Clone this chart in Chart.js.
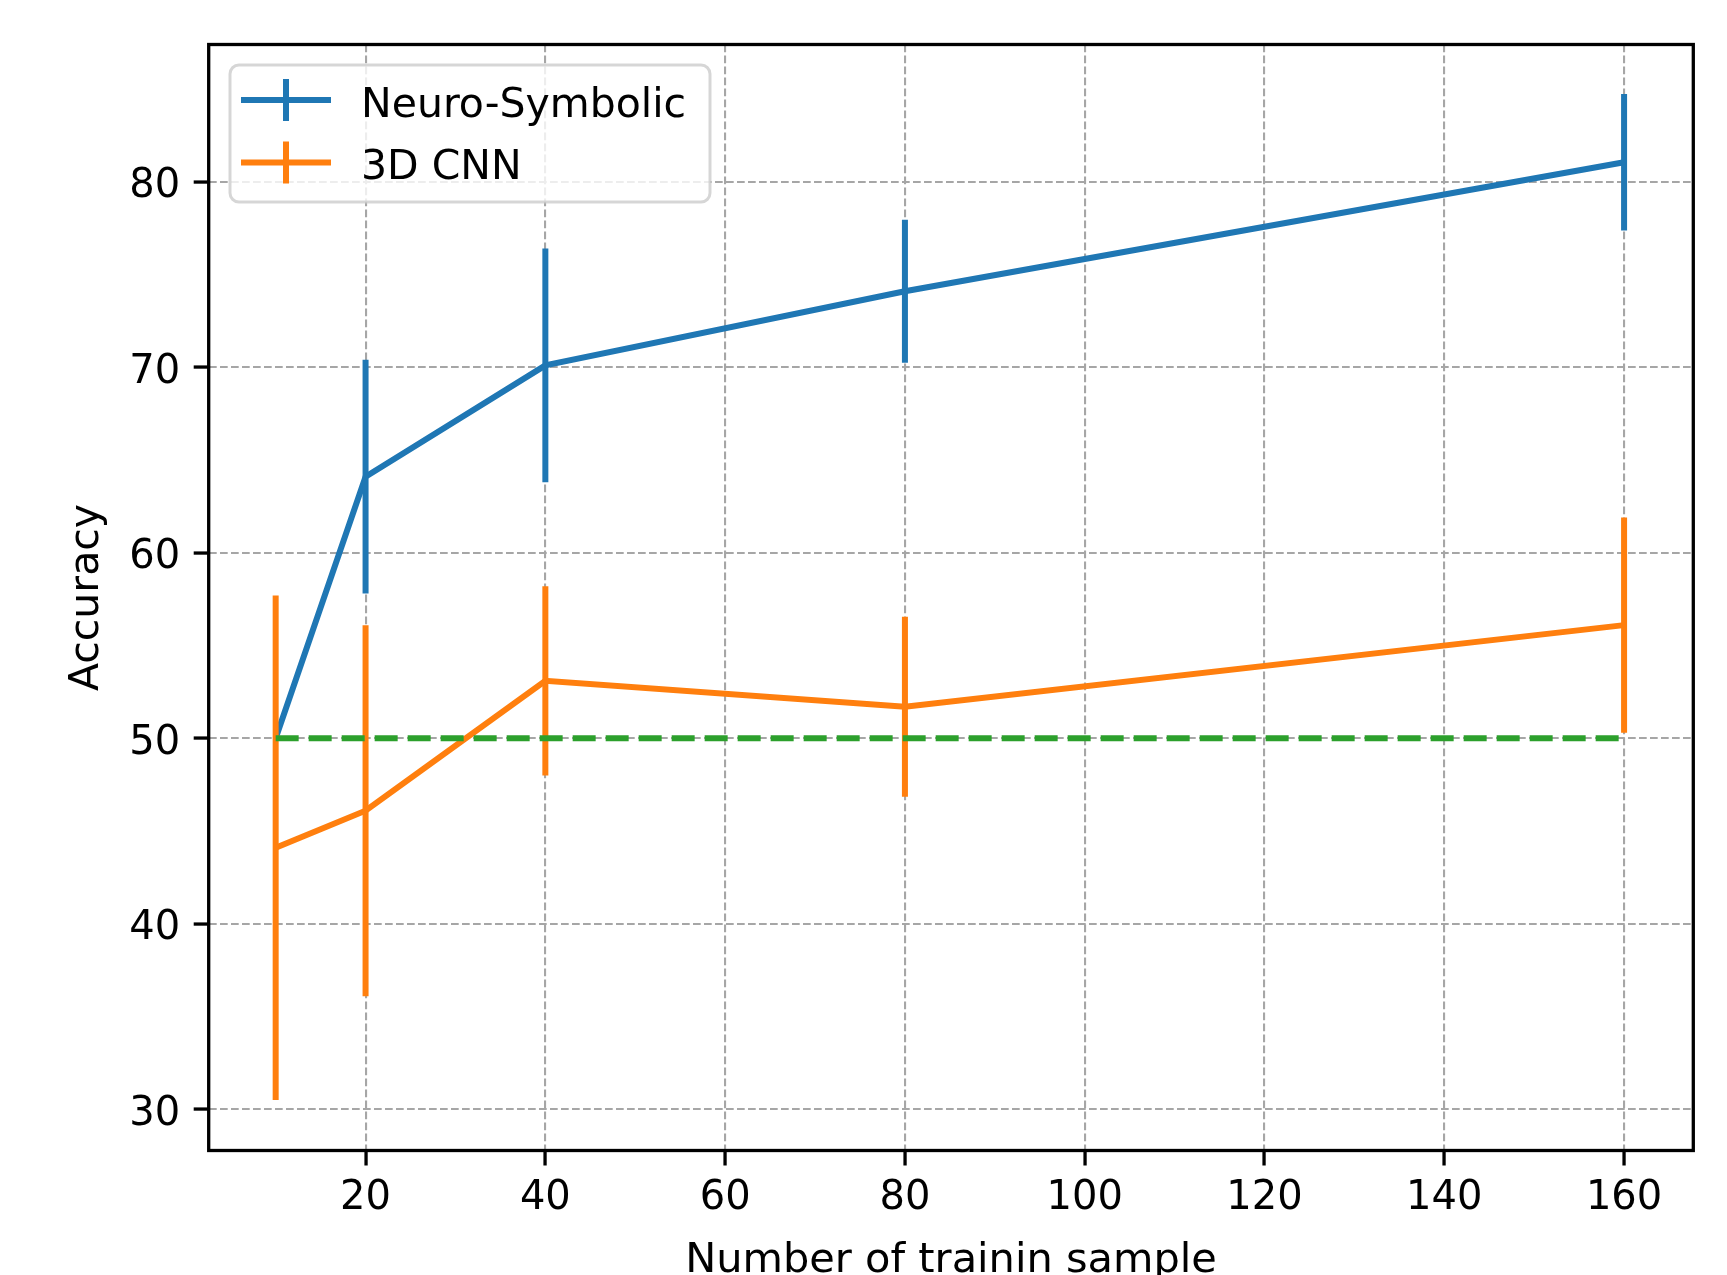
<!DOCTYPE html>
<html>
<head>
<meta charset="utf-8">
<script src="https://cdn.jsdelivr.net/npm/chart.js@4.4.1/dist/chart.umd.min.js"></script>
<style>
  html, body { margin: 0; padding: 0; background: #ffffff; }
  #wrap { width: 1727px; height: 1275px; }
</style>
</head>
<body>
<div id="wrap"><canvas id="c" width="1727" height="1275"></canvas></div>
<script>
// ---- data ----
const sampleCounts = [10, 20, 40, 80, 160];
const neuroMean = [50, 64.1, 70.1, 74.1, 81.05];
const neuroErr  = [0, 6.3, 6.3, 3.85, 3.68];
const cnnMean   = [44.1, 46.1, 53.1, 51.7, 56.1];
const cnnErr    = [13.6, 10.0, 5.1, 4.85, 5.8];
const chanceX   = [10, 160];
const chanceLevel = 50;
const xTickValues = [20, 40, 60, 80, 100, 120, 140, 160];
const yTickValues = [30, 40, 50, 60, 70, 80];
const seriesNames = ['Neuro-Symbolic', '3D CNN'];
const xTitle = 'Number of trainin sample';
const yTitle = 'Accuracy';

const FONT = '"DejaVu Sans", "Liberation Sans", sans-serif';
Chart.defaults.font.family = FONT;
Chart.defaults.color = '#000';

const toPoints = (xs, ys) => xs.map((x, i) => ({x: x, y: ys[i]}));

const errorBarPlugin = {
  id: 'errorBars',
  afterDatasetDraw(chart, args) {
    const ds = chart.data.datasets[args.index];
    if (!ds.errors) return;
    const ctx = chart.ctx, xs = chart.scales.x, ys = chart.scales.y;
    ctx.save();
    ctx.strokeStyle = ds.borderColor;
    ctx.lineWidth = ds.borderWidth;
    ctx.lineCap = 'butt';
    ds.data.forEach((p, i) => {
      const e = ds.errors[i];
      if (!e) return;
      const px = xs.getPixelForValue(p.x);
      ctx.beginPath();
      ctx.moveTo(px, ys.getPixelForValue(p.y - e));
      ctx.lineTo(px, ys.getPixelForValue(p.y + e));
      ctx.stroke();
    });
    ctx.restore();
  }
};

const framePlugin = {
  id: 'frame',
  afterDatasetsDraw(chart) {
    const {ctx, chartArea: a} = chart;
    ctx.save();
    ctx.strokeStyle = '#000';
    ctx.lineWidth = 3.3;
    ctx.strokeRect(a.left, a.top, a.right - a.left, a.bottom - a.top);
    ctx.restore();
  }
};

const legendPlugin = {
  id: 'boxLegend',
  afterDraw(chart) {
    const ctx = chart.ctx;
    const bx = 230, by = 65, bw = 480, bh = 137, r = 9;
    ctx.save();
    ctx.beginPath();
    ctx.moveTo(bx + r, by);
    ctx.arcTo(bx + bw, by, bx + bw, by + bh, r);
    ctx.arcTo(bx + bw, by + bh, bx, by + bh, r);
    ctx.arcTo(bx, by + bh, bx, by, r);
    ctx.arcTo(bx, by, bx + bw, by, r);
    ctx.closePath();
    ctx.fillStyle = 'rgba(255,255,255,0.8)';
    ctx.fill();
    ctx.strokeStyle = 'rgba(204,204,204,0.8)';
    ctx.lineWidth = 3;
    ctx.stroke();
    const rows = [100, 162.5];
    chart.data.datasets.slice(0, 2).forEach((ds, i) => {
      const y = rows[i];
      ctx.strokeStyle = ds.borderColor;
      ctx.lineWidth = 6;
      ctx.lineCap = 'butt';
      ctx.beginPath();
      ctx.moveTo(241, y); ctx.lineTo(331, y);
      ctx.moveTo(286, y - 21); ctx.lineTo(286, y + 21);
      ctx.stroke();
      ctx.fillStyle = '#000';
      ctx.font = '41px ' + FONT;
      ctx.textBaseline = 'alphabetic';
      ctx.textAlign = 'left';
      ctx.fillText(ds.label, 361, y + 16.5);
    });
    ctx.restore();
  }
};

const gridCommon = {
  color: '#a6a6a6',
  lineWidth: 2.1,
  drawTicks: true,
  tickLength: 15,
  tickColor: '#000',
  tickWidth: 3.3,
  tickBorderDash: []
};

new Chart(document.getElementById('c'), {
  type: 'line',
  data: {
    datasets: [
      {
        label: seriesNames[0],
        data: toPoints(sampleCounts, neuroMean),
        errors: neuroErr,
        borderColor: '#1f77b4',
        backgroundColor: '#1f77b4',
        borderWidth: 6,
        pointRadius: 0,
        tension: 0,
        order: 3
      },
      {
        label: seriesNames[1],
        data: toPoints(sampleCounts, cnnMean),
        errors: cnnErr,
        borderColor: '#ff7f0e',
        backgroundColor: '#ff7f0e',
        borderWidth: 6,
        pointRadius: 0,
        tension: 0,
        order: 2
      },
      {
        label: 'chance',
        data: chanceX.map(x => ({x: x, y: chanceLevel})),
        borderColor: '#2ca02c',
        borderWidth: 6,
        borderDash: [23, 10],
        borderCapStyle: 'butt',
        pointRadius: 0,
        order: 1
      }
    ]
  },
  options: {
    responsive: false,
    animation: false,
    devicePixelRatio: 1,
    layout: { padding: { left: 0, top: 44.5, right: 33.7, bottom: 0 } },
    plugins: {
      legend: { display: false },
      tooltip: { enabled: false }
    },
    scales: {
      x: {
        type: 'linear',
        min: 2.55,
        max: 167.7,
        afterBuildTicks: (axis) => { axis.ticks = xTickValues.map(v => ({value: v})); },
        afterFit: (axis) => { axis.height = 124.5; },
        grid: gridCommon,
        border: { display: false, dash: [7.7, 3.3] },
        ticks: {
          font: { size: 40, lineHeight: 1 },
          color: '#000',
          padding: 13,
          maxRotation: 0,
          autoSkip: false
        },
        title: {
          display: true,
          text: xTitle,
          color: '#000',
          font: { size: 41.5, lineHeight: 1 },
          padding: { top: 0, bottom: -7 }
        }
      },
      y: {
        type: 'linear',
        min: 27.78,
        max: 87.4,
        afterBuildTicks: (axis) => { axis.ticks = yTickValues.map(v => ({value: v})); },
        afterFit: (axis) => { axis.width = 208.7; },
        grid: gridCommon,
        border: { display: false, dash: [7.7, 3.3] },
        ticks: {
          font: { size: 40, lineHeight: 1 },
          color: '#000',
          padding: 13.5,
          labelOffset: 5,
          autoSkip: false
        },
        title: {
          display: true,
          text: yTitle,
          color: '#000',
          font: { size: 41, lineHeight: 1 },
          padding: { top: 67, bottom: 0 }
        }
      }
    }
  },
  plugins: [errorBarPlugin, framePlugin, legendPlugin]
});
</script>
</body>
</html>
